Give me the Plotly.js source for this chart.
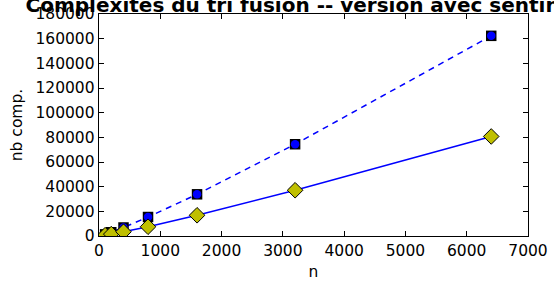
<!DOCTYPE html>
<html><head><meta charset="utf-8">
<script src="https://cdn.plot.ly/plotly-3.0.1.min.js"></script>
<style>body{margin:0;padding:0;}#chart{width:554px;height:281px;}</style>
</head><body><div id="chart"></div>
<script>
const nValues = [100, 200, 400, 800, 1600, 3200, 6400];
const compSansSentinelle = [1330, 3060, 6900, 15400, 33800, 74400, 162300];
const compAvecSentinelle = [670, 1530, 3450, 7500, 16800, 37100, 80700];
const xTicks = [0, 1000, 2000, 3000, 4000, 5000, 6000, 7000];
const yTicks = [0, 20000, 40000, 60000, 80000, 100000, 120000, 140000, 160000, 180000];

const font = {family: 'DejaVu Sans', size: 15.5, color: '#000'};
const traces = [
  {x: nValues, y: compSansSentinelle, mode: 'lines', line: {color: '#0000ff', width: 1.5, dash: '6px,5px'}},
  {x: nValues, y: compSansSentinelle, mode: 'markers', marker: {symbol: 'square', size: 10.5, color: '#000', line: {width: 0}}},
  {x: nValues, y: compSansSentinelle, mode: 'markers', marker: {symbol: 'circle', size: 8.5, color: '#0000ff', line: {width: 0}}},
  {x: nValues, y: compAvecSentinelle, mode: 'lines', line: {color: '#0000ff', width: 1.5}},
  {x: nValues, y: compAvecSentinelle, mode: 'markers', marker: {symbol: 'diamond', size: 12, color: '#bfbf00', line: {width: 1, color: '#000'}}}
];
const layout = {
  width: 554, height: 281,
  margin: {l: 99, r: 26, t: 14, b: 45},
  showlegend: false,
  paper_bgcolor: '#fff', plot_bgcolor: '#fff',
  font: font,
  title: {text: '<b>Complexités du tri fusion -- version avec sentinelle</b>', font: {family: 'DejaVu Sans', size: 20, color: '#000'}, x: 313/554, xanchor: 'center', xref: 'container', y: 1 - 12/281, yref: 'container', yanchor: 'bottom'},
  xaxis: {range: [0, 7000], tickvals: xTicks, ticktext: xTicks.map(String), ticks: 'inside', ticklen: 5, tickcolor: '#000', mirror: 'allticks', showline: true, linecolor: '#000', linewidth: 1.3, showgrid: false, zeroline: false, tickfont: font,
    title: {text: 'n', font: font, standoff: 8}},
  yaxis: {range: [0, 180000], tickvals: yTicks, ticktext: yTicks.map(String), ticks: 'inside', ticklen: 5, tickcolor: '#000', mirror: 'allticks', showline: true, linecolor: '#000', linewidth: 1.3, showgrid: false, zeroline: false, tickfont: font,
    title: {text: 'nb comp.', font: font, standoff: 9}}
};
Plotly.newPlot('chart', traces, layout, {displayModeBar: false, staticPlot: true});
</script></body></html>
